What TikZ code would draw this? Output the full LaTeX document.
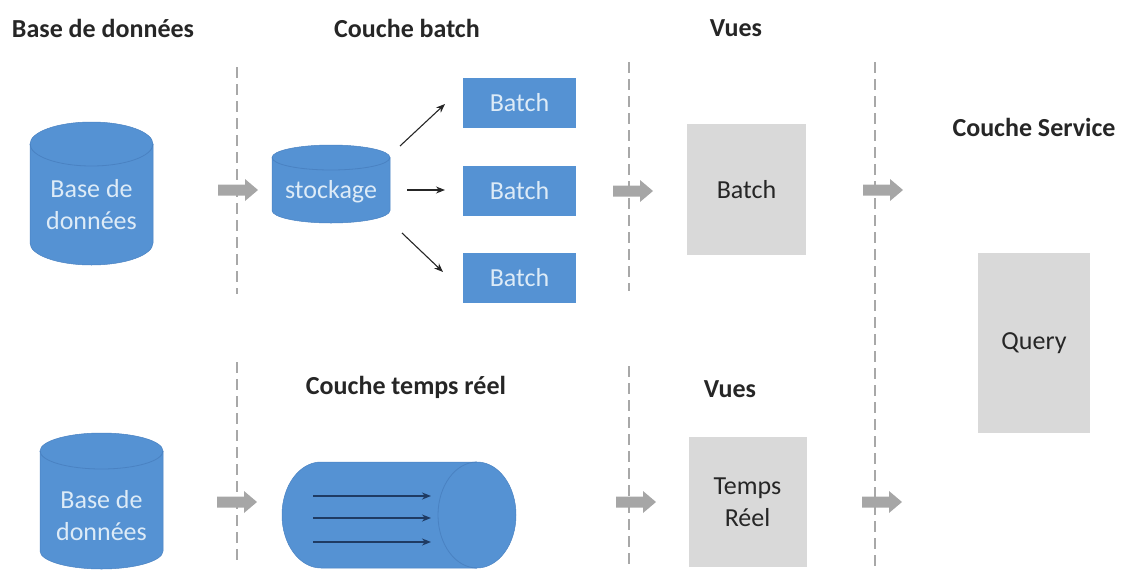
\documentclass[tikz,border=0pt]{standalone}
\usepackage{fontspec}
\setmainfont{Carlito}
\usetikzlibrary{arrows.meta}

\definecolor{boxblue}{HTML}{5592D3}
\definecolor{edgeblue}{HTML}{4A82C2}
\definecolor{lighttext}{HTML}{DDEBF7}
\definecolor{viewgray}{HTML}{D9D9D9}
\definecolor{arrowgray}{HTML}{A6A6A6}
\definecolor{linegray}{HTML}{A8A8A8}
\definecolor{darktext}{HTML}{262626}
\definecolor{flownavy}{HTML}{1F3B63}

\tikzset{
  title/.style={font=\bfseries\fontsize{26}{32}\selectfont, text=darktext, inner sep=0pt},
  cylfill/.style={fill=boxblue, draw=edgeblue, line width=0.5pt},
  cyledge/.style={draw=edgeblue, line width=0.8pt},
  cyllabel/.style={font=\fontsize{26}{32}\selectfont, text=lighttext, align=center, inner sep=0pt},
  bluebox/.style={fill=boxblue, minimum width=113pt, minimum height=50pt, inner sep=0pt,
                  font=\fontsize{26}{32}\selectfont, text=lighttext},
  viewbox/.style={fill=viewgray, inner sep=0pt, align=center,
                  font=\fontsize{26}{32}\selectfont, text=darktext},
  separator/.style={draw=linegray, line width=2.8pt, dash pattern=on 11pt off 6pt},
  fatarrow/.style={fill=arrowgray},
  splitarrow/.style={-{Stealth[length=9pt,width=7pt]}, line width=1.1pt, black!85},
  flowarrow/.style={-{Stealth[length=9pt,width=7pt]}, line width=1.5pt, flownavy},
}

% upright cylinder: left x, right x, top y, bottom y, radius of the end ellipses
\newcommand\uprightcyl[5]{%
  \pgfmathsetmacro\cylrx{(#2-#1)/2}%
  \filldraw[cylfill] (#1,#3-#5) -- (#1,#4+#5)
    arc[start angle=180, end angle=360, x radius=\cylrx, y radius=#5]
    -- (#2,#3-#5)
    arc[start angle=0, end angle=180, x radius=\cylrx, y radius=#5] -- cycle;
  \draw[cyledge] (#1,#3-#5) arc[start angle=180, end angle=360, x radius=\cylrx, y radius=#5];
}

% broad grey flow arrow: name, left x, centre y
\newcommand\broadarrow[3]{%
  \coordinate (#1) at (#2,#3);
  \fill[fatarrow] (#1) ++(0,5.5) -- ++(27,0) -- ++(0,5.5) -- ++(13,-11)
    -- ++(-13,-11) -- ++(0,5.5) -- ++(-27,0) -- cycle;
}

\begin{document}
\begin{tikzpicture}[x=1pt, y=1pt]
\useasboundingbox (0,0) rectangle (1125,-573);

% column titles
\node[title] (tdb)   at (103,-28)  {Base de données};
\node[title] (tbat)  at (407,-28)  {Couche batch};
\node[title] (tvue1) at (736,-28)  {Vues};
\node[title] (tserv) at (1034,-127) {Couche Service};
\node[title] (trt)   at (406,-387) {Couche temps réel};
\node[title] (tvue2) at (730,-389) {Vues};

% dashed separators
\draw[separator] (237,-67) -- (237,-294);
\draw[separator] (237,-362) -- (237,-566);
\draw[separator] (629,-62) -- (629,-291);
\draw[separator] (629,-366) -- (629,-570);
\draw[separator] (875,-62) -- (875,-566);

% batch row
\uprightcyl{30}{153}{-122}{-265}{22}
\node[cyllabel] (db1) at (91.5,-205) {Base de\\données};

\uprightcyl{272}{390}{-145}{-223}{12.5}
\node[cyllabel] (stk) at (331,-192) {stockage};

\node[bluebox] (b1) at (519.5,-103)   {Batch};
\node[bluebox] (b2) at (519.5,-190.5) {Batch};
\node[bluebox] (b3) at (519.5,-278)   {Batch};

\coordinate (s1) at (400,-146);  \coordinate (e1) at (445,-104);
\coordinate (s2) at (407,-190);  \coordinate (e2) at (445,-190);
\coordinate (s3) at (402,-233);  \coordinate (e3) at (443,-272);
\draw[splitarrow] (s1) -- (e1);
\draw[splitarrow] (s2) -- (e2);
\draw[splitarrow] (s3) -- (e3);

\node[viewbox, minimum width=119pt, minimum height=131pt] (vb) at (746.5,-189.5) {Batch};
\node[viewbox, minimum width=112pt, minimum height=180pt] (q)  at (1034,-343)   {Query};

\broadarrow{g1}{218}{-190}
\broadarrow{g2}{613}{-191}
\broadarrow{g3}{863}{-190}

% real-time row
\uprightcyl{40}{163}{-433}{-569}{18}
\node[cyllabel] (db2) at (101.5,-516) {Base de\\données};

% horizontal stream cylinder
\filldraw[cylfill] (321,-462) -- (477,-462)
  arc[start angle=90, end angle=-90, x radius=39, y radius=53]
  -- (321,-568)
  arc[start angle=270, end angle=90, x radius=39, y radius=53] -- cycle;
\draw[cyledge] (477,-462) arc[start angle=90, end angle=270, x radius=39, y radius=53];
\coordinate (rt) at (399,-515);

\coordinate (f1s) at (313,-496); \coordinate (f1e) at (431,-496);
\coordinate (f2s) at (313,-518); \coordinate (f2e) at (431,-518);
\coordinate (f3s) at (313,-542); \coordinate (f3e) at (431,-542);
\draw[flowarrow] (f1s) -- (f1e);
\draw[flowarrow] (f2s) -- (f2e);
\draw[flowarrow] (f3s) -- (f3e);

\node[viewbox, minimum width=118pt, minimum height=130pt] (tr) at (747.5,-502) {Temps\\Réel};

\broadarrow{g4}{217}{-502}
\broadarrow{g5}{616}{-502}
\broadarrow{g6}{862}{-502}
\end{tikzpicture}
\end{document}
